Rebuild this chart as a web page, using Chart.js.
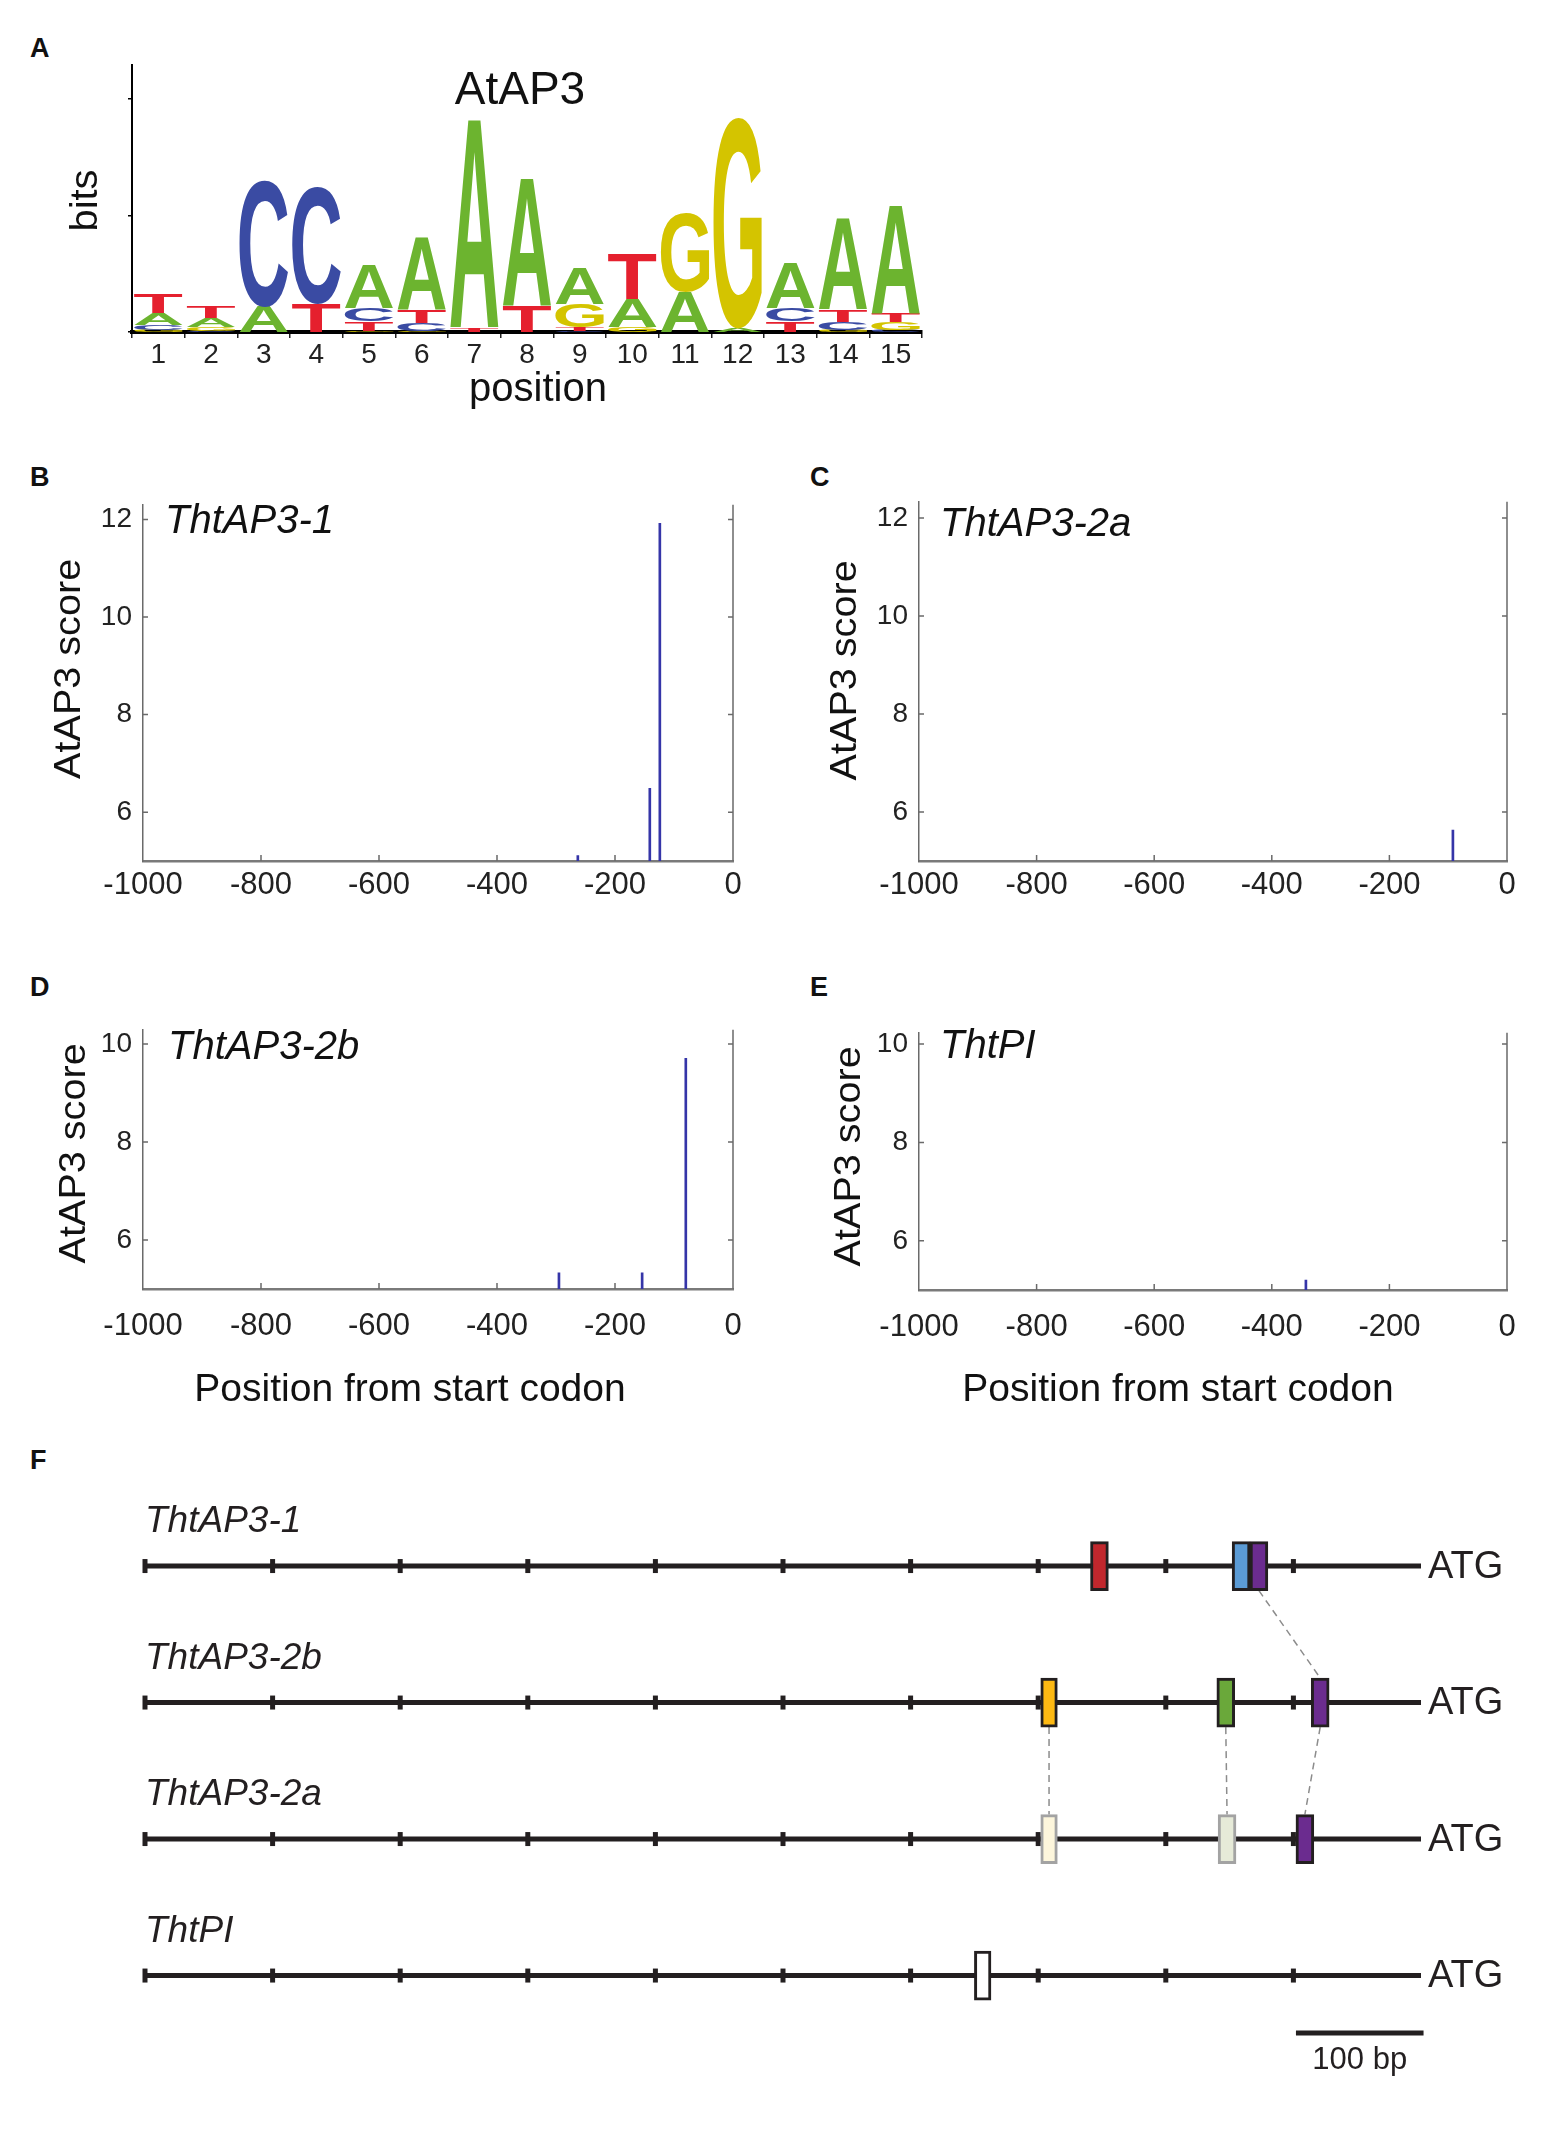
<!DOCTYPE html>
<html>
<head>
<meta charset="utf-8">
<script src="https://cdn.jsdelivr.net/npm/chart.js@4.4.1/dist/chart.umd.min.js"></script>
<style>
html,body{margin:0;padding:0;background:#fff;}
#page{position:relative;width:1563px;height:2131px;overflow:hidden;font-family:"Liberation Sans",Arial,Helvetica,sans-serif;background:#fff;}
canvas{position:absolute;}
.lab{position:absolute;font-weight:bold;font-size:27px;line-height:1;color:#111;}
</style>
</head>
<body>
<div id="page">
  <div class="lab" style="left:30px;top:35px">A</div>
  <div class="lab" style="left:30px;top:464px">B</div>
  <div class="lab" style="left:810px;top:464px">C</div>
  <div class="lab" style="left:30px;top:974px">D</div>
  <div class="lab" style="left:810px;top:974px">E</div>
  <div class="lab" style="left:30px;top:1447px">F</div>
  <canvas id="cA" width="960" height="390" style="left:0px;top:40px"></canvas>
  <canvas id="cB" width="780" height="463" style="left:0px;top:477px"></canvas>
  <canvas id="cC" width="783" height="466" style="left:780px;top:474px"></canvas>
  <canvas id="cD" width="780" height="418" style="left:0px;top:1002px"></canvas>
  <canvas id="cE" width="783" height="415" style="left:780px;top:1005px"></canvas>
  <canvas id="cF" width="1563" height="651" style="left:0px;top:1480px"></canvas>
</div>
<script>
// ---------------- DATA ----------------
// Panel A: sequence logo (information content in bits per letter)
const logoPositions = ['1','2','3','4','5','6','7','8','9','10','11','12','13','14','15'];
const bitsA = [0.10,0.08,0.22,0.00,0.37,0.62,1.79,1.09,0.31,0.24,0.34,0.03,0.39,0.79,0.93];
const bitsC = [0.04,0.01,1.08,1.00,0.11,0.07,0.00,0.00,0.01,0.00,0.00,0.00,0.11,0.07,0.02];
const bitsG = [0.02,0.03,0.00,0.00,0.01,0.01,0.00,0.00,0.20,0.04,0.68,1.81,0.00,0.02,0.065];
const bitsT = [0.16,0.10,0.00,0.24,0.08,0.11,0.03,0.22,0.03,0.39,0.00,0.00,0.09,0.10,0.075];
const bitsTicks = [0,1,2];

// Panels B-E: AtAP3 score hits vs position from start codon
const posB = [-263,-141,-124];   const scoreB = [5.11,6.49,11.92];
const posC = [-92];              const scoreC = [5.63];
const posD = [-295,-154,-80];    const scoreD = [5.33,5.33,9.71];
const posE = [-342];             const scoreE = [5.20];
const xTicks = [-1000,-800,-600,-400,-200,0];
const yTicksBC = [6,8,10,12];
const yTicksDE = [6,8,10];

// Panel F: promoter diagram
const geneNames = ['ThtAP3-1','ThtAP3-2b','ThtAP3-2a','ThtPI'];
const geneRow = [3,2,1,0];
const tickBp = [-1000,-900,-800,-700,-600,-500,-400,-300,-200,-100];
const boxRow  = [3,3,3,2,2,2,1,1,1,0];
const boxFrom = [-259,-148,-134,-298,-160,-86,-298,-159,-98,-350];
const boxTo   = [-245,-134,-120,-285,-146,-72,-285,-145,-84,-337];
const boxFill = ['#c1272d','#5b9bd5','#6b2c8f','#fdb913','#6aa83a','#6b2c8f','#fdf6dc','#e6ead8','#6b2c8f','#ffffff'];
const boxEdge = ['#231f20','#231f20','#231f20','#231f20','#231f20','#231f20','#a3a3a3','#a3a3a3','#231f20','#231f20'];
const linkBp   = [[-127,-79],[-291.5,-291.5],[-153,-152],[-79,-91]];
const linkRows = [[3,2],[2,1],[2,1],[2,1]];
const scaleBarBp = [-98,2];

// ---------------- SETUP ----------------
const FONT = '"Liberation Sans", Arial, Helvetica, sans-serif';
Chart.defaults.font.family = FONT;
Chart.defaults.color = '#222';
Chart.defaults.animation = false;
Chart.defaults.responsive = false;
Chart.defaults.plugins.legend.display = false;
Chart.defaults.plugins.tooltip.enabled = false;

function drawGlyph(ctx, ch, x, y, w, h, color) {
  if (h <= 0.3) return;
  ctx.save();
  ctx.font = 'bold 200px ' + FONT;
  const m = ctx.measureText(ch);
  const gl = -m.actualBoundingBoxLeft, gr = m.actualBoundingBoxRight;
  const gt = -m.actualBoundingBoxAscent, gb = m.actualBoundingBoxDescent;
  ctx.translate(x, y);
  ctx.scale(w / (gr - gl), h / (gb - gt));
  ctx.fillStyle = color;
  ctx.textAlign = 'left';
  ctx.textBaseline = 'alphabetic';
  ctx.fillText(ch, -gl, -gt);
  ctx.restore();
}

const glyphPlugin = {
  id: 'glyphs',
  afterDatasetsDraw(chart) {
    const {ctx, scales: {x, y}} = chart;
    const n = chart.data.labels.length;
    const colW = (x.right - x.left) / n;
    for (let i = 0; i < n; i++) {
      const stack = chart.data.datasets.map(ds => ({ch: ds.label, h: ds.data[i], color: ds.letterColor}));
      stack.sort((a, b) => a.h - b.h);
      let base = 0;
      const cx = x.getPixelForValue(i);
      for (const s of stack) {
        if (s.h <= 0) continue;
        const top = y.getPixelForValue(base + s.h), bot = y.getPixelForValue(base);
        drawGlyph(ctx, s.ch, cx - colW * 0.46, top, colW * 0.92, bot - top, s.color);
        base += s.h;
      }
    }
  }
};

const rotTitle = {
  id: 'rotTitle',
  afterDraw(chart, args, o) {
    if (!o || !o.text) return;
    const {ctx, chartArea: a} = chart;
    ctx.save();
    ctx.translate(a.left - o.dx, (a.top + a.bottom) / 2 + o.dy);
    ctx.rotate(-Math.PI / 2);
    ctx.scale(o.stretch, 1);
    ctx.font = o.size + 'px ' + FONT;
    ctx.fillStyle = '#111';
    ctx.textAlign = 'center';
    ctx.textBaseline = 'alphabetic';
    ctx.fillText(o.text, 0, 0);
    ctx.restore();
  }
};

const noteText = {
  id: 'noteText',
  afterDraw(chart, args, o) {
    if (!o || !o.items) return;
    const {ctx, chartArea: a} = chart;
    ctx.save();
    for (const t of o.items) {
      ctx.font = t.font;
      ctx.fillStyle = t.color || '#111';
      ctx.textAlign = t.align || 'left';
      ctx.textBaseline = 'middle';
      const px = t.abs ? t.x : a.left + t.x;
      const py = t.abs ? t.y : a.top + t.y;
      ctx.fillText(t.text, px, py);
    }
    ctx.restore();
  }
};

const framePlugin = {
  id: 'frame',
  afterDraw(chart) {
    const {ctx, chartArea: a, scales: {x, y}} = chart;
    ctx.save();
    ctx.strokeStyle = '#6a6a6a';
    ctx.lineWidth = 1.5;
    ctx.beginPath();
    ctx.moveTo(a.right, a.top); ctx.lineTo(a.right, a.bottom);
    x.ticks.forEach(t => {
      if (t.value <= x.min || t.value >= x.max) return;
      const px = x.getPixelForValue(t.value);
      ctx.moveTo(px, a.bottom); ctx.lineTo(px, a.bottom - 6);
    });
    y.ticks.forEach(t => {
      const py = y.getPixelForValue(t.value);
      ctx.moveTo(a.left, py); ctx.lineTo(a.left + 5, py);
      ctx.moveTo(a.right, py); ctx.lineTo(a.right - 5, py);
    });
    ctx.stroke();
    ctx.restore();
  }
};

// ---------------- PANEL A ----------------
const letterColors = {A: '#6cb42f', C: '#3a4ba3', G: '#d4c400', T: '#e5202e'};
const logoSeries = {A: bitsA, C: bitsC, G: bitsG, T: bitsT};
new Chart(document.getElementById('cA'), {
  type: 'bar',
  data: {
    labels: logoPositions,
    datasets: Object.keys(logoSeries).map(k => ({
      label: k, data: logoSeries[k], letterColor: letterColors[k],
      backgroundColor: 'rgba(0,0,0,0)', borderWidth: 0, barPercentage: 1, categoryPercentage: 1
    }))
  },
  options: {
    layout: {padding: {top: 25, right: 38, left: 0, bottom: 0}},
    scales: {
      x: {
        stacked: true,
        afterFit: s => { s.height = 98; },
        grid: {display: true, drawOnChartArea: false, drawTicks: true, tickLength: 6, offset: true, color: '#222', lineWidth: 1.5},
        border: {display: true, color: '#000', width: 4},
        ticks: {font: {size: 28}, padding: 0, color: '#222', maxRotation: 0, autoSkip: false},
        title: {display: false}
      },
      y: {
        stacked: true, min: 0, max: 2.29,
        afterBuildTicks: s => { s.ticks = bitsTicks.map(v => ({value: v})); },
        afterFit: s => { s.width = 132; },
        grid: {display: true, drawOnChartArea: false, drawTicks: true, tickLength: 4, color: '#000', lineWidth: 1.5},
        border: {display: true, color: '#000', width: 2},
        ticks: {callback: () => '', padding: 0}
      }
    },
    plugins: {
      rotTitle: {text: 'bits', dx: 35, dy: 2, size: 38, stretch: 1.05},
      noteText: {items: [
        {text: 'AtAP3', x: 520, y: 51, abs: true, align: 'center', font: '46px ' + FONT},
        {text: 'position', x: 538, y: 350, abs: true, align: 'center', font: '40px ' + FONT}
      ]}
    }
  },
  plugins: [glyphPlugin, rotTitle, noteText]
});

// ---------------- PANELS B-E ----------------
function scoreChart(id, pos, score, yMax, yTicks, name, xTitle, L) {
  const items = [{text: name, x: L.nx, y: L.ny, font: 'italic 40px ' + FONT, color: '#111'}];
  if (xTitle) items.push({text: xTitle, x: L.tx, y: L.ty, abs: true, align: 'center', font: '39px ' + FONT, color: '#111'});
  return new Chart(document.getElementById(id), {
    type: 'bar',
    data: {
      datasets: [{
        data: pos.map((p, i) => ({x: p, y: [5, score[i]]})),
        backgroundColor: '#3535a8', borderWidth: 0, barThickness: 2, grouped: false
      }]
    },
    options: {
      layout: {padding: {top: 0, right: L.right, left: 0, bottom: 0}},
      scales: {
        x: {
          type: 'linear', min: -1000, max: 0, offset: false,
          afterBuildTicks: s => { s.ticks = xTicks.map(v => ({value: v})); },
          afterFit: s => { s.height = L.xh; },
          grid: {display: false, offset: false, drawTicks: false},
          border: {display: true, color: '#7a7a7a', width: 2.5},
          ticks: {font: {size: 31}, padding: L.xpad, color: '#222', maxRotation: 0, autoSkip: false, callback: v => String(v)},
          title: {display: false}
        },
        y: {
          min: 5, max: yMax,
          afterBuildTicks: s => { s.ticks = yTicks.map(v => ({value: v})); },
          afterFit: s => { s.width = L.yw; },
          grid: {display: false, drawTicks: false},
          border: {display: true, color: '#6a6a6a', width: 1.5},
          ticks: {font: {size: 28}, padding: 11, color: '#222', callback: v => String(v)}
        }
      },
      plugins: {
        rotTitle: {text: 'AtAP3 score', dx: L.tdx, dy: L.tdy, size: 36, stretch: 1.1},
        noteText: {items: items}
      }
    },
    plugins: [framePlugin, rotTitle, noteText]
  });
}

scoreChart('cB', posB, scoreB, 12.3, yTicksBC, 'ThtAP3-1', null,
  {right: 47, yw: 143, xh: 79, xpad: 6, tdx: 63, tdy: -14, nx: 22, ny: 17});
scoreChart('cC', posC, scoreC, 12.33, yTicksBC, 'ThtAP3-2a', null,
  {right: 56, yw: 139, xh: 79, xpad: 6, tdx: 63, tdy: -11, nx: 21, ny: 23});
scoreChart('cD', posD, scoreD, 10.29, yTicksDE, 'ThtAP3-2b', 'Position from start codon',
  {right: 47, yw: 143, xh: 131, xpad: 19, tdx: 58, tdy: -6, nx: 25, ny: 18, tx: 410, ty: 388});
scoreChart('cE', posE, scoreE, 10.23, yTicksDE, 'ThtPI', 'Position from start codon',
  {right: 56, yw: 139, xh: 130, xpad: 19, tdx: 59, tdy: -5, nx: 21, ny: 14, tx: 398, ty: 385});

// ---------------- PANEL F ----------------
const boxHalf = 0.18;
const barY = -0.42;
const geneText = {
  id: 'geneText',
  afterDraw(chart) {
    const {ctx, scales: {x, y}} = chart;
    ctx.save();
    ctx.fillStyle = '#231f20';
    ctx.textBaseline = 'middle';
    geneNames.forEach((n, i) => {
      const py = y.getPixelForValue(geneRow[i]);
      ctx.textAlign = 'left';
      ctx.font = 'italic 37px ' + FONT;
      ctx.fillText(n, x.getPixelForValue(-1000), py - 44);
      ctx.font = '38px ' + FONT;
      ctx.fillText('ATG', x.getPixelForValue(0) + 7, py + 1);
    });
    ctx.font = '31px ' + FONT;
    ctx.textAlign = 'center';
    ctx.fillText('100 bp', (x.getPixelForValue(scaleBarBp[0]) + x.getPixelForValue(scaleBarBp[1])) / 2, y.getPixelForValue(barY) + 28);
    ctx.restore();
  }
};

const fDatasets = [];
fDatasets.push({
  type: 'bar', indexAxis: 'y',
  data: boxRow.map((r, i) => ({y: r, x: [boxFrom[i], boxTo[i]]})),
  backgroundColor: boxFill, borderColor: boxEdge, borderWidth: 3, borderSkipped: false,
  barThickness: 49, grouped: false, clip: false, order: 0
});
fDatasets.push({
  type: 'scatter',
  data: geneRow.flatMap(r => tickBp.map(b => ({x: b, y: r}))),
  pointStyle: 'line', pointRotation: 90, pointRadius: 7, pointBorderWidth: 5,
  pointBorderColor: '#231f20', pointBackgroundColor: '#231f20', showLine: false, clip: false, order: 1
});
geneRow.forEach(r => fDatasets.push({
  type: 'line', data: [{x: -1000, y: r}, {x: 0, y: r}],
  borderColor: '#231f20', borderWidth: 5, pointRadius: 0, clip: false, order: 2
}));
linkBp.forEach((b, i) => fDatasets.push({
  type: 'line', data: [{x: b[0], y: linkRows[i][0] - boxHalf}, {x: b[1], y: linkRows[i][1] + boxHalf}],
  borderColor: '#8c8c8c', borderWidth: 1.5, borderDash: [7, 5], pointRadius: 0, clip: false, order: 3
}));
fDatasets.push({
  type: 'line', data: [{x: scaleBarBp[0], y: barY}, {x: scaleBarBp[1], y: barY}],
  borderColor: '#231f20', borderWidth: 5, pointRadius: 0, clip: false, order: 2
});

new Chart(document.getElementById('cF'), {
  type: 'scatter',
  data: {datasets: fDatasets},
  options: {
    layout: {padding: {top: 17.8, right: 142, left: 145, bottom: 87.2}},
    scales: {
      x: {type: 'linear', min: -1000, max: 0, display: false, offset: false},
      y: {type: 'linear', min: -0.5, max: 3.5, display: false, offset: false}
    }
  },
  plugins: [geneText]
});
</script>
</body>
</html>
